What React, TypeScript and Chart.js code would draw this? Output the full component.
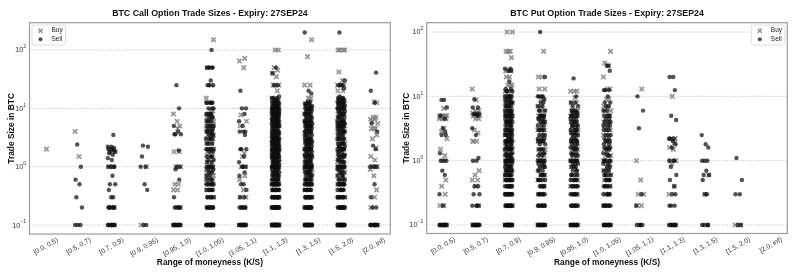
import React, { useEffect, useRef } from "react";
import { Chart, registerables } from "chart.js";

Chart.register(...registerables);

// ---------- data ----------
const categories = [
  "[0.0, 0.5)", "[0.5, 0.7)", "[0.7, 0.9)", "[0.9, 0.95)", "[0.95, 1.0)", "[1.0, 1.05)",
  "[1.05, 1.1)", "[1.1, 1.3)", "[1.3, 1.5)", "[1.5, 2.0)", "[2.0, inf)",
];
const yTickExponents = [-1, 0, 1, 2];
const seriesLabels = ["Buy", "Sell"];

type Group = [number, number][]; // [trade size in BTC, number of trades]

const callBuy: Group[] = [
  [[2, 1]],
  [[4, 1], [1.5, 1]],
  [[2, 1], [1.8, 1], [1, 2], [0.2, 2], [0.1, 2]],
  [[1, 1], [0.1, 1]],
  [[8, 1], [6, 1], [5, 1], [4.5, 1], [1.8, 2], [1, 2], [0.5, 2], [0.4, 2], [0.2, 1], [0.1, 3]],
  [[150, 1], [50, 1], [25, 1], [15, 1], [9, 2], [8, 2], [7, 3], [6, 4], [5.5, 3], [5, 5], [4.5, 4], [4, 4], [3.5, 3], [3, 3], [2.5, 3], [2, 3], [1.8, 2], [1.5, 3], [1.2, 2], [1, 4], [0.9, 3], [0.8, 4], [0.7, 3], [0.6, 3], [0.5, 3], [0.4, 2], [0.3, 2], [0.2, 2], [0.1, 4]],
  [[72, 1], [65, 1], [50, 1], [7.7, 1], [6, 1], [5, 1], [1.7, 1], [1.5, 1], [1, 2], [0.7, 1], [0.6, 1], [0.4, 1], [0.3, 2], [0.2, 2], [0.1, 4]],
  [[100, 2], [50, 1], [45, 1], [40, 1], [35, 1], [25, 3], [20, 1], [15, 2], [12, 3], [10, 4], [8, 4], [6, 5], [5, 5], [4, 5], [3, 5], [2.5, 4], [2, 5], [1.5, 5], [1.2, 3], [1, 6], [0.8, 3], [0.6, 3], [0.5, 4], [0.4, 3], [0.3, 3], [0.2, 4], [0.1, 6]],
  [[150, 1], [77, 1], [25, 2], [15, 2], [12, 2], [10, 3], [8, 4], [6, 4], [5, 4], [4, 4], [3, 4], [2.5, 3], [2, 4], [1.5, 4], [1.2, 3], [1, 5], [0.8, 3], [0.6, 3], [0.5, 3], [0.4, 2], [0.3, 3], [0.2, 3], [0.1, 5]],
  [[100, 4], [42, 1], [30, 1], [25, 4], [20, 2], [15, 2], [12, 3], [10, 4], [8, 4], [6, 5], [5, 5], [4, 5], [3, 5], [2.5, 3], [2, 4], [1.5, 4], [1.2, 3], [1, 5], [0.8, 3], [0.7, 2], [0.6, 2], [0.5, 3], [0.4, 2], [0.3, 2], [0.2, 3], [0.1, 5]],
  [[13, 1], [12.5, 1], [7, 2], [6.5, 2], [6, 1], [5.5, 1], [4.5, 3], [3.5, 1], [3, 1], [2.1, 1], [1.5, 1], [1.3, 1], [1, 4], [0.9, 1], [0.7, 1], [0.4, 1], [0.3, 1], [0.2, 1], [0.1, 3]],
];

const callSell: Group[] = [
  [],
  [[2.4, 1], [1, 1], [0.6, 1], [0.5, 1], [0.3, 1], [0.2, 1], [0.1, 3]],
  [[3.5, 1], [2.2, 2], [2.1, 1], [2, 2], [1.9, 1], [1.8, 2], [1.7, 1], [1.6, 1], [1.4, 1], [1.3, 1], [1, 4], [0.7, 1], [0.5, 2], [0.4, 1], [0.3, 2], [0.2, 6], [0.1, 8]],
  [[2.3, 1], [2.2, 1], [1.5, 1], [1, 2], [0.5, 1], [0.4, 1], [0.1, 2]],
  [[25, 1], [10, 1], [5, 1], [4, 1], [3.6, 3], [1.9, 1], [1, 2], [0.9, 1], [0.6, 1], [0.3, 1], [0.2, 5], [0.1, 12]],
  [[100, 1], [50, 5], [30, 1], [25, 3], [12.5, 6], [10, 3], [8, 4], [7, 3], [6, 3], [5, 4], [4.5, 2], [4, 4], [3.5, 3], [3, 4], [2.5, 3], [2, 5], [1.8, 2], [1.5, 3], [1.3, 2], [1.2, 2], [1, 6], [0.9, 2], [0.8, 2], [0.7, 2], [0.6, 3], [0.5, 6], [0.4, 5], [0.3, 5], [0.2, 8], [0.1, 16]],
  [[20, 1], [10, 2], [8, 1], [6, 1], [5, 1], [4, 3], [3.5, 1], [2, 3], [1.5, 1], [1.2, 1], [1, 3], [0.8, 1], [0.7, 1], [0.5, 2], [0.4, 1], [0.3, 2], [0.2, 5], [0.1, 12]],
  [[50, 1], [40, 1], [25, 2], [16, 1], [15, 3], [14, 3], [13, 4], [12, 5], [11, 4], [10, 8], [9.5, 3], [9, 5], [8.5, 3], [8, 6], [7.5, 4], [7, 6], [6.5, 4], [6, 6], [5.5, 5], [5, 8], [4.5, 5], [4, 7], [3.7, 4], [3.5, 5], [3.2, 4], [3, 7], [2.8, 4], [2.6, 4], [2.5, 6], [2.3, 4], [2.2, 4], [2, 8], [1.9, 3], [1.8, 4], [1.7, 4], [1.6, 4], [1.5, 6], [1.4, 4], [1.3, 4], [1.2, 5], [1.1, 4], [1, 12], [0.9, 5], [0.8, 6], [0.7, 7], [0.6, 8], [0.5, 12], [0.4, 10], [0.3, 12], [0.2, 15], [0.1, 25]],
  [[200, 1], [20, 1], [18, 1], [13, 2], [12, 3], [11, 3], [10, 6], [9, 4], [8, 5], [7, 5], [6, 6], [5.5, 4], [5, 7], [4.5, 4], [4, 6], [3.5, 5], [3, 6], [2.7, 4], [2.5, 5], [2.2, 4], [2, 7], [1.8, 4], [1.6, 4], [1.5, 5], [1.3, 4], [1.2, 4], [1.1, 3], [1, 10], [0.9, 4], [0.8, 5], [0.7, 5], [0.6, 6], [0.5, 10], [0.4, 8], [0.3, 10], [0.2, 12], [0.1, 20]],
  [[200, 1], [30, 1], [25, 3], [22, 1], [16, 1], [15, 3], [14, 3], [13, 4], [12, 4], [11, 3], [10, 6], [9, 4], [8, 5], [7, 5], [6, 5], [5.5, 4], [5, 6], [4.5, 4], [4, 5], [3.5, 4], [3, 5], [2.5, 5], [2.2, 3], [2, 6], [1.8, 3], [1.6, 3], [1.5, 4], [1.3, 3], [1.2, 3], [1, 8], [0.9, 3], [0.8, 3], [0.7, 3], [0.6, 4], [0.5, 8], [0.4, 6], [0.3, 8], [0.2, 10], [0.1, 18]],
  [[41, 1], [20, 1], [12.5, 1], [5.5, 1], [4, 1], [2.3, 1], [2, 1], [1, 3], [0.5, 1], [0.3, 1], [0.2, 2], [0.1, 10]],
];

const putBuy: Group[] = [
  [[6.5, 1], [5, 4], [4.8, 4], [4.5, 4], [3.2, 1], [2.8, 1], [2.2, 1], [1.5, 1], [1.2, 1], [1, 1], [0.5, 1], [0.4, 1], [0.3, 1], [0.2, 2], [0.1, 4]],
  [[13, 1], [8.8, 1], [6, 2], [5.5, 3], [5, 4], [4.5, 2], [3, 1], [2.7, 1], [2, 3], [0.7, 1], [0.6, 1], [0.5, 2], [0.4, 1], [0.2, 1], [0.1, 4]],
  [[100, 2], [50, 3], [40, 1], [25, 3], [20, 2], [15, 3], [12, 3], [10, 4], [8, 4], [7, 3], [6, 4], [5, 5], [4, 4], [3, 4], [2.5, 3], [2, 4], [1.5, 4], [1.2, 3], [1, 5], [0.8, 3], [0.7, 3], [0.6, 3], [0.5, 4], [0.4, 3], [0.3, 3], [0.2, 3], [0.1, 5]],
  [[50, 1], [20, 2], [13, 2], [9, 2], [7, 2], [6, 2], [5, 3], [4, 3], [3, 3], [2.5, 2], [2, 3], [1.5, 3], [1.2, 2], [1, 3], [0.8, 2], [0.6, 2], [0.5, 2], [0.4, 2], [0.3, 2], [0.2, 2], [0.1, 4]],
  [[12, 3], [9.5, 1], [8, 2], [6, 3], [5, 4], [4, 3], [3.5, 2], [3, 3], [2.5, 2], [2, 3], [1.5, 3], [1.2, 2], [1, 3], [0.8, 2], [0.6, 2], [0.5, 2], [0.4, 2], [0.3, 2], [0.2, 2], [0.1, 4]],
  [[50, 1], [33, 1], [30, 1], [20, 1], [13, 2], [9, 2], [7, 2], [6, 3], [5, 3], [4, 3], [3.5, 2], [3, 2], [2.5, 2], [2, 2], [1.5, 3], [1.2, 2], [1, 3], [0.9, 2], [0.8, 2], [0.7, 2], [0.6, 2], [0.5, 2], [0.4, 2], [0.3, 2], [0.2, 2], [0.1, 3]],
  [[13, 1], [1, 1], [0.5, 1], [0.3, 2], [0.2, 2], [0.1, 1]],
  [[10, 1], [2.2, 2], [1.9, 1], [1.6, 1], [1.5, 1], [1, 2], [0.9, 1], [0.4, 1], [0.3, 1], [0.1, 3]],
  [[0.6, 1], [0.3, 1], [0.1, 1]],
  [[0.1, 2]],
  [],
];

const putSell: Group[] = [
  [[8.8, 2], [6.7, 1], [5, 1], [4.5, 1], [3.2, 1], [2.5, 2], [2.8, 1], [1.3, 1], [1, 3], [0.7, 1], [0.6, 1], [0.3, 1], [0.2, 1], [0.1, 10]],
  [[9, 1], [6.7, 2], [5.3, 4], [5, 1], [3.2, 1], [2.5, 1], [1.1, 1], [1, 2], [0.4, 2], [0.3, 2], [0.2, 4], [0.1, 12]],
  [[27, 2], [25, 2], [17, 1], [13, 2], [12, 3], [10, 5], [9, 4], [8, 5], [7, 5], [6, 5], [5.5, 4], [5, 6], [4.5, 4], [4, 6], [3.5, 5], [3, 6], [2.7, 4], [2.5, 5], [2.2, 4], [2, 7], [1.8, 4], [1.6, 4], [1.5, 5], [1.3, 4], [1.2, 4], [1.1, 3], [1, 10], [0.9, 4], [0.8, 5], [0.7, 6], [0.6, 7], [0.5, 10], [0.4, 8], [0.3, 10], [0.2, 12], [0.1, 20]],
  [[100, 1], [20, 1], [10, 4], [9, 1], [8, 2], [7, 2], [6, 3], [5, 4], [4.5, 4], [4, 3], [3.5, 3], [3, 4], [2.5, 3], [2.2, 3], [2, 4], [1.8, 2], [1.5, 3], [1.3, 3], [1.2, 2], [1, 6], [0.9, 3], [0.8, 3], [0.7, 3], [0.6, 4], [0.5, 5], [0.4, 5], [0.3, 6], [0.2, 8], [0.1, 14]],
  [[19, 1], [10, 1], [8, 2], [7, 2], [6, 3], [5.5, 3], [5, 4], [4.5, 3], [4, 4], [3.5, 4], [3, 4], [2.7, 3], [2.5, 3], [2.2, 3], [2, 4], [1.8, 3], [1.6, 3], [1.5, 3], [1.3, 3], [1.2, 3], [1, 6], [0.9, 3], [0.8, 3], [0.7, 3], [0.6, 4], [0.5, 5], [0.4, 5], [0.3, 6], [0.2, 8], [0.1, 14]],
  [[30, 2], [25, 1], [12.5, 3], [10, 1], [8, 2], [7, 2], [6, 2], [5, 3], [4.5, 2], [4, 3], [3.5, 3], [3, 3], [2.5, 3], [2.2, 2], [2, 3], [1.8, 2], [1.6, 3], [1.5, 2], [1.3, 2], [1.2, 2], [1, 5], [0.9, 2], [0.8, 2], [0.7, 3], [0.6, 4], [0.5, 5], [0.4, 5], [0.3, 5], [0.2, 8], [0.1, 14]],
  [[10, 1], [6, 1], [3.2, 1], [0.3, 1], [0.2, 1], [0.1, 4]],
  [[20, 2], [12.5, 1], [5, 1], [4.3, 1], [2.2, 3], [2, 1], [1.8, 1], [1.6, 1], [1, 3], [0.8, 1], [0.6, 1], [0.5, 1], [0.4, 1], [0.3, 2], [0.2, 3], [0.1, 8]],
  [[2.5, 1], [1.8, 1], [1.6, 1], [1, 3], [0.7, 1], [0.6, 2], [0.5, 1], [0.3, 2], [0.1, 4]],
  [[1.1, 1], [0.5, 1], [0.3, 2], [0.1, 2]],
  [],
];

// fixed horizontal strip offsets (category units)
const JITTER = [
  0.02, -0.09, 0.07, -0.04, 0.11, -0.07, 0.04, -0.11, 0.01, 0.09, -0.02, 0.06, -0.1, 0.03, -0.05,
  0.115, -0.08, 0.05, -0.01, 0.085, -0.045, 0.065, -0.095, 0.025, -0.07, 0.1, -0.025, 0.055, -0.11, 0.0, 0.08,
];

const FONT = '"Liberation Sans", Arial, Helvetica, sans-serif';

function toPoints(groups: Group[], seed: number) {
  const pts: { x: number; y: number }[] = [];
  groups.forEach((g, ci) => {
    let k = seed + ci * 7;
    g.forEach(([v, n]) => {
      for (let i = 0; i < n; i++) {
        pts.push({ x: ci + JITTER[k % JITTER.length], y: v });
        k++;
      }
    });
  });
  return pts;
}

type PanelCfg = {
  title: string;
  buy: Group[];
  sell: Group[];
  yMin: number;
  yMax: number;
  padding: { left: number; right: number; top: number; bottom: number };
  legendSide: "left" | "right";
  yTitleX: number;
};

function makeDecor(cfg: PanelCfg) {
  return {
    id: "decor",
    beforeDatasetsDraw(chart: any) {
      const { ctx, chartArea: a, scales } = chart;
      const y = scales.y;
      ctx.save();
      ctx.strokeStyle = "#c4c4c4";
      ctx.lineWidth = 0.8;
      ctx.setLineDash([1.5, 1.2]);
      for (const e of yTickExponents) {
        const py = y.getPixelForValue(Math.pow(10, e));
        if (py < a.top || py > a.bottom) continue;
        ctx.beginPath();
        ctx.moveTo(a.left, py);
        ctx.lineTo(a.right, py);
        ctx.stroke();
      }
      ctx.restore();
    },
    afterDraw(chart: any) {
      const { ctx, chartArea: a, scales } = chart;
      const x = scales.x;
      const y = scales.y;
      ctx.save();
      // frame
      ctx.strokeStyle = "#9c9c9c";
      ctx.lineWidth = 1.2;
      ctx.strokeRect(a.left, a.top, a.right - a.left, a.bottom - a.top);

      // y tick labels 10^e
      ctx.fillStyle = "#333";
      ctx.textBaseline = "middle";
      for (const e of yTickExponents) {
        const py = y.getPixelForValue(Math.pow(10, e));
        const expStr = e < 0 ? "\u2212" + Math.abs(e) : String(e);
        ctx.font = `5px ${FONT}`;
        const ew = ctx.measureText(expStr).width;
        const right = a.left - 3.5;
        ctx.textAlign = "right";
        ctx.fillText(expStr, right, py - 3);
        ctx.font = `7.2px ${FONT}`;
        ctx.fillText("10", right - ew, py + 0.5);
      }

      // x tick labels, rotated 30deg and centred on the tick
      ctx.font = `6.8px ${FONT}`;
      ctx.textAlign = "center";
      ctx.textBaseline = "middle";
      const rot = (30 * Math.PI) / 180;
      categories.forEach((c, i) => {
        const px = x.getPixelForValue(i);
        const L = ctx.measureText(c).width;
        const h = 6.0;
        const H = L * Math.sin(rot) + h * Math.cos(rot);
        const cy = a.bottom + 3 + H / 2;
        ctx.save();
        ctx.translate(px, cy);
        ctx.rotate(-rot);
        ctx.fillText(c, 0, 0);
        ctx.restore();
      });

      // axis titles
      ctx.fillStyle = "#111";
      ctx.font = `bold 8.4px ${FONT}`;
      ctx.textAlign = "center";
      ctx.textBaseline = "alphabetic";
      ctx.fillText("Range of moneyness (K/S)", (a.left + a.right) / 2, 264.5);
      ctx.save();
      ctx.translate(cfg.yTitleX, (a.top + a.bottom) / 2);
      ctx.rotate(-Math.PI / 2);
      ctx.textBaseline = "middle";
      ctx.fillText("Trade Size in BTC", 0, 0);
      ctx.restore();

      // title
      ctx.font = `bold 8.8px ${FONT}`;
      ctx.textBaseline = "alphabetic";
      ctx.fillText(cfg.title, (a.left + a.right) / 2, 15.8);

      // legend
      const bw = 33.5;
      const bh = 20;
      const bx = cfg.legendSide === "left" ? a.left + 2.5 : a.right - 2.5 - bw;
      const by = a.top + 2.3;
      ctx.beginPath();
      const r = 2;
      ctx.moveTo(bx + r, by);
      ctx.arcTo(bx + bw, by, bx + bw, by + bh, r);
      ctx.arcTo(bx + bw, by + bh, bx, by + bh, r);
      ctx.arcTo(bx, by + bh, bx, by, r);
      ctx.arcTo(bx, by, bx + bw, by, r);
      ctx.closePath();
      ctx.fillStyle = "rgba(255,255,255,0.85)";
      ctx.fill();
      ctx.strokeStyle = "#d6d6d6";
      ctx.lineWidth = 0.8;
      ctx.stroke();
      const mx = bx + 8.5;
      const tx = bx + 19.5;
      const r1 = by + 5.7;
      const r2 = by + 14.3;
      // Buy marker
      ctx.strokeStyle = "rgba(125,125,125,0.85)";
      ctx.lineWidth = 1.6;
      const d = 2;
      ctx.beginPath();
      ctx.moveTo(mx - d, r1 - d);
      ctx.lineTo(mx + d, r1 + d);
      ctx.moveTo(mx + d, r1 - d);
      ctx.lineTo(mx - d, r1 + d);
      ctx.stroke();
      // Sell marker
      ctx.fillStyle = "rgba(20,20,20,0.75)";
      ctx.beginPath();
      ctx.arc(mx, r2, 2, 0, Math.PI * 2);
      ctx.fill();
      ctx.fillStyle = "#222";
      ctx.font = `6.5px ${FONT}`;
      ctx.textAlign = "left";
      ctx.textBaseline = "middle";
      ctx.fillText(seriesLabels[0], tx, r1);
      ctx.fillText(seriesLabels[1], tx, r2);
      ctx.restore();
    },
  };
}

function Panel({ cfg, left, width }: { cfg: PanelCfg; left: number; width: number }) {
  const ref = useRef<HTMLCanvasElement | null>(null);
  useEffect(() => {
    if (!ref.current) return;
    const chart = new Chart(ref.current, {
      type: "scatter",
      data: {
        datasets: [
          {
            label: seriesLabels[0],
            data: toPoints(cfg.buy, 0),
            pointStyle: "crossRot",
            pointRadius: 3.1,
            pointBorderWidth: 1.7,
            pointBorderColor: "rgba(125,125,125,0.8)",
            pointBackgroundColor: "rgba(125,125,125,0.8)",
            order: 1,
          } as any,
          {
            label: seriesLabels[1],
            data: toPoints(cfg.sell, 13),
            pointStyle: "circle",
            pointRadius: 2.2,
            pointBorderWidth: 0,
            pointBackgroundColor: "rgba(15,15,15,0.72)",
            order: 0,
          } as any,
        ],
      },
      options: {
        animation: false,
        responsive: false,
        events: [],
        layout: { padding: cfg.padding },
        scales: {
          x: { type: "linear", min: -0.5, max: 10.5, display: false },
          y: { type: "logarithmic", min: cfg.yMin, max: cfg.yMax, display: false },
        },
        plugins: { legend: { display: false }, tooltip: { enabled: false }, title: { display: false } },
      },
      plugins: [makeDecor(cfg)],
    });
    return () => chart.destroy();
  }, []);
  return (
    <canvas
      ref={ref}
      width={width}
      height={272}
      style={{ position: "absolute", left, top: 0, width, height: 272 }}
    />
  );
}

const callCfg: PanelCfg = {
  title: "BTC Call Option Trade Sizes - Expiry: 27SEP24",
  buy: callBuy,
  sell: callSell,
  yMin: 0.0702,
  yMax: 294,
  padding: { left: 29.5, right: 3.5, top: 22.7, bottom: 38 },
  legendSide: "left",
  yTitleX: 11.5,
};

const putCfg: PanelCfg = {
  title: "BTC Put Option Trade Sizes - Expiry: 27SEP24",
  buy: putBuy,
  sell: putSell,
  yMin: 0.0738,
  yMax: 139.6,
  padding: { left: 30.7, right: 5, top: 22.7, bottom: 38.5 },
  legendSide: "right",
  yTitleX: 10.5,
};

export default function App() {
  return (
    <div style={{ position: "absolute", left: 0, top: 0, width: 793, height: 272, background: "#fff" }}>
      <Panel cfg={callCfg} left={0} width={396} />
      <Panel cfg={putCfg} left={396} width={397} />
    </div>
  );
}
